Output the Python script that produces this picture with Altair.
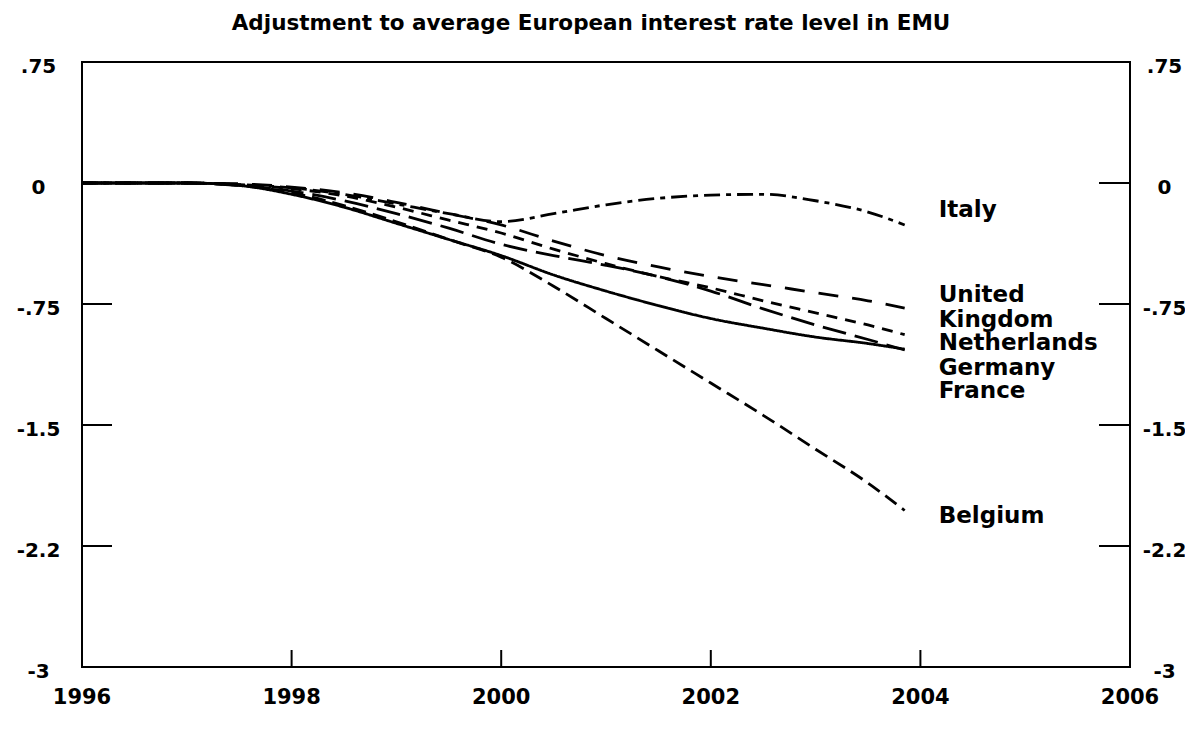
import altair as alt
import pandas as pd

# ---------------- data ----------------
years = [1996, 1996.5, 1997, 1997.5, 1998, 1998.5, 1999, 1999.5, 2000,
         2000.5, 2001, 2001.5, 2002, 2002.5, 2003, 2003.5, 2003.85]

series_names = ["Italy", "United Kingdom", "Netherlands", "Germany", "France", "Belgium"]
label_texts = ["Italy", "United\nKingdom", "Netherlands", "Germany", "France", "Belgium"]

italy = [0, 0, 0, -0.01, -0.03, -0.07, -0.13, -0.19, -0.24,
         -0.19, -0.135, -0.095, -0.075, -0.07, -0.11, -0.18, -0.26]
united_kingdom = [0, 0, 0, -0.005, -0.025, -0.06, -0.12, -0.19, -0.26,
                  -0.36, -0.45, -0.52, -0.58, -0.63, -0.68, -0.73, -0.775]
netherlands = [0, 0, 0, -0.01, -0.035, -0.08, -0.15, -0.23, -0.31,
               -0.41, -0.50, -0.58, -0.65, -0.73, -0.805, -0.88, -0.94]
germany = [0, 0, 0, -0.015, -0.05, -0.11, -0.19, -0.28, -0.38,
           -0.45, -0.51, -0.58, -0.67, -0.78, -0.88, -0.97, -1.035]
france = [0, 0, 0, -0.015, -0.07, -0.15, -0.25, -0.35, -0.45,
          -0.57, -0.67, -0.76, -0.84, -0.90, -0.955, -0.995, -1.03]
belgium = [0, 0, 0, -0.015, -0.06, -0.14, -0.24, -0.35, -0.46,
           -0.64, -0.84, -1.04, -1.24, -1.44, -1.65, -1.86, -2.03]

y_ticks = [0.75, 0, -0.75, -1.5, -2.25, -3]
y_tick_labels = [".75", "0", "-.75", "-1.5", "-2.2", "-3"]
y_inner_ticks = [0, -0.75, -1.5, -2.25]
x_ticks = [1996, 1998, 2000, 2002, 2004, 2006]
x_inner_ticks = [1998, 2000, 2002, 2004]

title_text = "Adjustment to average European interest rate level in EMU"

# ---------------- styles ----------------
W, H = 1048, 605
FONT = "DejaVu Sans"
dashes = {
    "Italy": [16, 6, 5, 6],
    "United Kingdom": [20, 14],
    "Netherlands": [11, 8],
    "Germany": [24, 9],
    "France": [1, 0],
    "Belgium": [14, 7],
}
label_dy = {
    "Italy": -15,
    "United Kingdom": -13,
    "Netherlands": 8,
    "Germany": 18,
    "France": 42,
    "Belgium": 5,
}

# ---------------- tables ----------------
all_values = [italy, united_kingdom, netherlands, germany, france, belgium]
rows = []
for name, vals in zip(series_names, all_values):
    for yr, v in zip(years, vals):
        rows.append({"series": name, "year": yr, "value": v})
df = pd.DataFrame(rows)

ends = pd.DataFrame({
    "series": series_names,
    "label": label_texts,
    "year": [years[-1]] * len(series_names),
    "value": [vals[-1] for vals in all_values],
})

label_expr = " : ".join(
    f"datum.value == {v} ? '{t}'" for v, t in zip(y_ticks, y_tick_labels)
) + " : ''"

xscale = alt.Scale(domain=[1996, 2006], nice=False, zero=False)
yscale = alt.Scale(domain=[-3, 0.75], nice=False, zero=False)

axis_common = dict(
    ticks=False, tickSize=0, domain=False, grid=False, title=None,
    labelFont=FONT, labelFontWeight="bold", labelFontSize=20, labelColor="black",
    labelOverlap=False, labelFlush=False,
)

left_axis = alt.Axis(orient="left", values=y_ticks, labelExpr=label_expr,
                     labelAlign="center", labelBaseline="middle",
                     labelPadding=44, labelOffset=4, **axis_common)
right_axis = alt.Axis(orient="right", values=y_ticks, labelExpr=label_expr,
                      labelAlign="center", labelBaseline="middle",
                      labelPadding=34, labelOffset=4, **axis_common)

lines = alt.Chart(df).mark_line(color="black", strokeWidth=2.8,
                                interpolate="monotone").encode(
    x=alt.X("year:Q", scale=xscale, axis=None),
    y=alt.Y("value:Q", scale=yscale, axis=left_axis),
    strokeDash=alt.StrokeDash("series:N", legend=None,
                              scale=alt.Scale(domain=series_names,
                                              range=[dashes[s] for s in series_names])),
    detail="series:N",
)

ytick_df = pd.DataFrame({"v": y_inner_ticks})
xtick_df = pd.DataFrame({"yr": x_inner_ticks})
xlab_df = pd.DataFrame({"yr": x_ticks})

left_ticks = alt.Chart(ytick_df).mark_rule(color="black", strokeWidth=2).encode(
    y=alt.Y("v:Q", scale=yscale, axis=None),
    x=alt.value(0), x2=alt.value(30),
)
right_ticks = alt.Chart(ytick_df).mark_rule(color="black", strokeWidth=2).encode(
    y=alt.Y("v:Q", scale=yscale, axis=right_axis),
    x=alt.value(W - 31), x2=alt.value(W),
)
bottom_ticks = alt.Chart(xtick_df).mark_rule(color="black", strokeWidth=2).encode(
    x=alt.X("yr:Q", scale=xscale, axis=None),
    y=alt.value(H), y2=alt.value(H - 17),
)
x_labels = alt.Chart(xlab_df).mark_text(
    align="center", baseline="middle", font=FONT, fontWeight="bold",
    fontSize=21, color="black",
).encode(
    x=alt.X("yr:Q", scale=xscale, axis=None),
    y=alt.value(H + 31),
    text=alt.Text("yr:Q", format="d"),
)

label_layers = []
for s in series_names:
    label_layers.append(
        alt.Chart(ends[ends["series"] == s]).mark_text(
            align="left", baseline="middle", dx=34, dy=label_dy[s],
            font=FONT, fontWeight="bold", fontSize=23, color="black",
            lineBreak="\n", lineHeight=25,
        ).encode(
            x=alt.X("year:Q", scale=xscale, axis=None),
            y=alt.Y("value:Q", scale=yscale, axis=None),
            text="label:N",
        )
    )

chart = alt.layer(
    lines, left_ticks, bottom_ticks, x_labels, *label_layers, right_ticks
).resolve_scale(y="independent").properties(
    width=W, height=H,
    title=alt.Title(title_text),
    autosize=alt.AutoSizeParams(type="none"),
    padding={"left": 74, "top": 54, "right": 55, "bottom": 60},
).configure(
    background="white",
).configure_view(
    stroke="black", strokeWidth=2,
).configure_title(
    font=FONT, fontSize=21.5, fontWeight="bold", color="black",
    anchor="middle", offset=22, dx=-15,
)

chart.save("out.html", embed_options={"renderer": "svg", "actions": False})
